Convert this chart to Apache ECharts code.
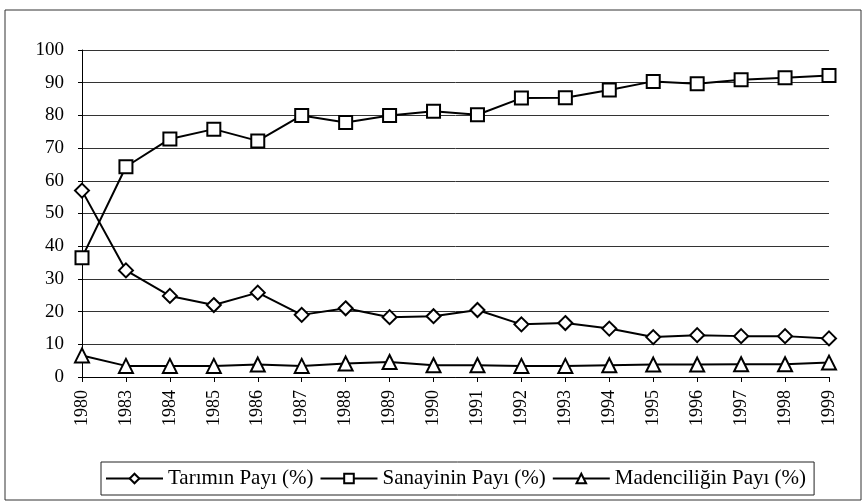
<!DOCTYPE html>
<html>
<head>
<meta charset="utf-8">
<script src="https://cdn.jsdelivr.net/npm/echarts@6/dist/echarts.min.js"></script>
<style>
  html, body { margin: 0; padding: 0; background: #fff; }
  #divChart { width: 864px; height: 503px; }
</style>
</head>
<body>
<div id="divChart"></div>
<script>
// years on the x axis (1981, 1982 are not in the source)
var arrYears = ['1980', '1983', '1984', '1985', '1986', '1987', '1988', '1989', '1990',
    '1991', '1992', '1993', '1994', '1995', '1996', '1997', '1998', '1999'];
var arrTarim = [57, 32.6, 24.8, 22, 25.8, 19, 21, 18.3, 18.6, 20.5, 16.1, 16.5, 14.8, 12.2, 12.8, 12.5, 12.5, 11.8];
var arrSanayi = [36.5, 64.3, 72.8, 75.8, 72.2, 80, 77.8, 80, 81.3, 80.2, 85.3, 85.4, 87.8, 90.4, 89.7, 90.9, 91.5, 92.2];
var arrMaden = [6.6, 3.4, 3.4, 3.4, 3.8, 3.4, 4.1, 4.6, 3.6, 3.6, 3.4, 3.4, 3.6, 3.8, 3.8, 3.9, 3.9, 4.4];
var arrNames = ['Tarımın Payı (%)', 'Sanayinin Payı (%)', 'Madenciliğin Payı (%)'];

var strFont = '"Liberation Serif", "Times New Roman", serif';
var chartLine = echarts.init(document.getElementById('divChart'));

function MakeSeries(strName, arrData, strSymbol, intSize) {
    return {
        name: strName,
        type: 'line',
        data: arrData,
        symbol: strSymbol,
        symbolSize: intSize,
        showAllSymbol: true,
        lineStyle: { color: '#000', width: 2 },
        itemStyle: { color: '#fff', borderColor: '#000', borderWidth: 2 },
        emphasis: { disabled: true },
        z: 3
    };
}

var optLine = {
    animation: false,
    backgroundColor: '#fff',
    textStyle: { fontFamily: strFont },
    graphic: [{
        type: 'rect',
        shape: { x: 5, y: 10, width: 856, height: 490 },
        style: { fill: 'none', stroke: '#333', lineWidth: 1 },
        silent: true
    }],
    grid: { left: 82, right: 35, top: 50, bottom: 126 },
    legend: {
        bottom: 8,
        left: 101,
        data: arrNames,
        itemWidth: 57,
        itemHeight: 12,
        itemGap: 6,
        padding: [6, 8, 6, 4],
        borderColor: '#222',
        borderWidth: 1,
        borderRadius: 0,
        textStyle: { fontFamily: strFont, fontSize: 21, color: '#000' }
    },
    xAxis: {
        type: 'category',
        data: arrYears,
        boundaryGap: false,
        axisLine: { lineStyle: { color: '#000', width: 1 } },
        axisTick: { alignWithLabel: true, length: 5, lineStyle: { color: '#000' } },
        axisLabel: { rotate: 90, margin: 13, fontFamily: strFont, fontSize: 18, color: '#000' }
    },
    yAxis: {
        type: 'value',
        min: 0,
        max: 100,
        interval: 10,
        axisLine: { show: true, lineStyle: { color: '#000', width: 1 } },
        axisTick: { show: true, length: 4, lineStyle: { color: '#000' } },
        axisLabel: { margin: 18, fontFamily: strFont, fontSize: 19, color: '#000' },
        splitLine: { lineStyle: { color: '#333', width: 1 } }
    },
    series: [
        MakeSeries(arrNames[0], arrTarim, 'diamond', 14),
        MakeSeries(arrNames[1], arrSanayi, 'rect', 13),
        MakeSeries(arrNames[2], arrMaden, 'triangle', 14)
    ]
};
chartLine.setOption(optLine);
</script>
</body>
</html>
